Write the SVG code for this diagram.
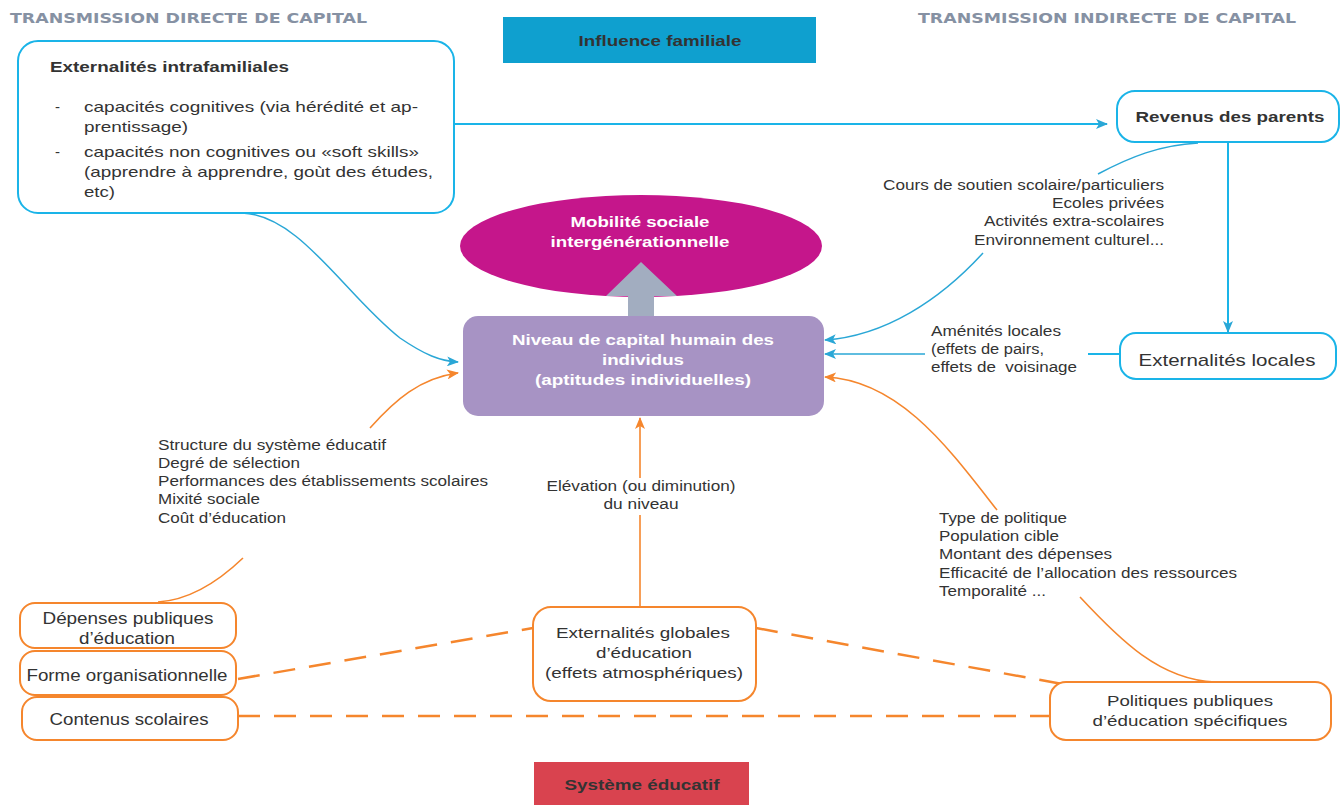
<svg xmlns="http://www.w3.org/2000/svg" width="1342" height="805" viewBox="0 0 1342 805">
<style>
text{font-family:"Liberation Sans",Arial,sans-serif;fill:#333}
.hdr{font-family:"DejaVu Sans","Liberation Sans",sans-serif;font-weight:bold;font-size:14px;fill:#8691a3}
.b{font-weight:bold}
.t14{font-size:14px}
.t15{font-size:15px}
.t16{font-size:16px}
.w{fill:#fff;font-weight:bold;font-size:15px}
.bbox{fill:#fff;stroke:#1ab4e8;stroke-width:2}
.obox{fill:#fff;stroke:#f5862d;stroke-width:2}
.bl{fill:none;stroke:#2aa7d6;stroke-width:1.5}
.bl2{fill:none;stroke:#1ab4e8;stroke-width:2}
.ol{fill:none;stroke:#f5862d;stroke-width:1.6}
.od{fill:none;stroke:#f5862d;stroke-width:2.5;stroke-dasharray:22 14}
</style>
<defs>
<marker id="ab" markerWidth="12" markerHeight="10" refX="11" refY="5" orient="auto" markerUnits="userSpaceOnUse"><path d="M0,0 L12,5 L0,10 L3,5 Z" fill="#2aa7d6"/></marker>
<marker id="ao" markerWidth="12" markerHeight="10" refX="11" refY="5" orient="auto" markerUnits="userSpaceOnUse"><path d="M0,0 L12,5 L0,10 L3,5 Z" fill="#f5862d"/></marker>
</defs>
<rect width="1342" height="805" fill="#fff"/>

<text class="hdr" x="10" y="23" textLength="357" lengthAdjust="spacingAndGlyphs">TRANSMISSION DIRECTE DE CAPITAL</text>
<text class="hdr" x="918" y="23" textLength="378" lengthAdjust="spacingAndGlyphs">TRANSMISSION INDIRECTE DE CAPITAL</text>

<g id="connectors">
<path class="bl2" d="M454,124 L1107,124" marker-end="url(#ab)"/>
<path class="bl" d="M242,213 C300,215 345,295 400,338 C425,355 440,361 458,362" marker-end="url(#ab)"/>
<path class="bl" d="M1098,174 C1130,157 1160,145 1198,143"/>
<path class="bl" d="M983,253 C940,300 885,336 825,340" marker-end="url(#ab)"/>
<path class="bl2" d="M1228,142 L1228,332" marker-end="url(#ab)"/>
<path class="bl2" d="M1120,354 L1088,354"/>
<path class="bl" d="M925,354 L825,354" marker-end="url(#ab)"/>
<path class="ol" d="M370,428 C395,400 420,378 458,373" marker-end="url(#ao)"/>
<path class="ol" d="M997,510 C950,450 900,380 825,377" marker-end="url(#ao)"/>
<path class="ol" d="M1080,597 C1120,640 1160,680 1215,682"/>
<path class="ol" d="M243,558 C220,580 190,600 158,602"/>
<path class="ol" stroke-width="2.5" d="M640,607 L640,515"/>
<path class="ol" stroke-width="2.5" d="M640,478 L640,418" marker-end="url(#ao)"/>
<path class="od" d="M238,679 L533,628"/>
<path class="od" d="M756,628 L1062,684"/>
<path class="od" d="M238,716 L1050,716"/>
</g>

<g id="influence">
<rect x="503" y="17" width="313" height="46" fill="#0fa0cf"/>
<text class="b t15" x="660" y="46" text-anchor="middle" textLength="163" lengthAdjust="spacingAndGlyphs">Influence familiale</text>
</g>

<g id="intrafamiliales">
<rect class="bbox" x="18" y="41" width="436" height="172" rx="20"/>
<text class="b t15" x="50" y="72" textLength="239" lengthAdjust="spacingAndGlyphs">Externalités intrafamiliales</text>
<text class="t15" x="55" y="112">-</text>
<text class="t15" x="84" y="112" textLength="334" lengthAdjust="spacingAndGlyphs">capacités cognitives (via hérédité et ap-</text>
<text class="t15" x="84" y="132" textLength="104" lengthAdjust="spacingAndGlyphs">prentissage)</text>
<text class="t15" x="55" y="157">-</text>
<text class="t15" x="84" y="157" textLength="335" lengthAdjust="spacingAndGlyphs">capacités non cognitives ou «soft skills»</text>
<text class="t15" x="84" y="177" textLength="349" lengthAdjust="spacingAndGlyphs">(apprendre à apprendre, goùt des études,</text>
<text class="t15" x="84" y="197" textLength="31" lengthAdjust="spacingAndGlyphs">etc)</text>
</g>

<g id="revenus">
<rect class="bbox" x="1117" y="91" width="222" height="51" rx="18"/>
<text class="b t15" x="1230" y="122" text-anchor="middle" textLength="189" lengthAdjust="spacingAndGlyphs">Revenus des parents</text>
</g>

<g id="label-revenus">
<text class="t14" x="1164" y="190" text-anchor="end" textLength="281" lengthAdjust="spacingAndGlyphs">Cours de soutien scolaire/particuliers</text>
<text class="t14" x="1164" y="208" text-anchor="end" textLength="112" lengthAdjust="spacingAndGlyphs">Ecoles privées</text>
<text class="t14" x="1164" y="226" text-anchor="end" textLength="180" lengthAdjust="spacingAndGlyphs">Activités extra-scolaires</text>
<text class="t14" x="1164" y="245" text-anchor="end" textLength="190" lengthAdjust="spacingAndGlyphs">Environnement culturel...</text>
</g>

<g id="mobilite">
<ellipse cx="641" cy="246" rx="181" ry="51" fill="#c5168b"/>
<text class="w" x="640" y="227" text-anchor="middle" textLength="139" lengthAdjust="spacingAndGlyphs">Mobilité sociale</text>
<text class="w" x="640" y="247" text-anchor="middle" textLength="179" lengthAdjust="spacingAndGlyphs">intergénérationnelle</text>
</g>

<g id="arrow-up">
<path d="M628,316 L628,296 L606,296 L641,262 L677,296 L654,296 L654,316 Z" fill="#a2adc0"/>
</g>

<g id="niveau">
<rect x="463" y="316" width="361" height="100" rx="15" fill="#a793c4"/>
<text class="w" x="643" y="345" text-anchor="middle" textLength="262" lengthAdjust="spacingAndGlyphs">Niveau de capital humain des</text>
<text class="w" x="643" y="365" text-anchor="middle" textLength="82" lengthAdjust="spacingAndGlyphs">individus</text>
<text class="w" x="643" y="385" text-anchor="middle" textLength="216" lengthAdjust="spacingAndGlyphs">(aptitudes individuelles)</text>
</g>

<g id="externalites-locales">
<rect class="bbox" x="1120" y="333" width="216" height="46" rx="16"/>
<text x="1227" y="366" text-anchor="middle" font-size="17" textLength="177" lengthAdjust="spacingAndGlyphs">Externalités locales</text>
</g>

<g id="label-amenites">
<text class="t14" x="931" y="336" textLength="130" lengthAdjust="spacingAndGlyphs">Aménités locales</text>
<text class="t14" x="931" y="354" textLength="113" lengthAdjust="spacingAndGlyphs">(effets de pairs,</text>
<text class="t14" x="931" y="372" textLength="146" lengthAdjust="spacingAndGlyphs" xml:space="preserve">effets de  voisinage</text>
</g>

<g id="label-systeme">
<text class="t14" x="158" y="450" textLength="228" lengthAdjust="spacingAndGlyphs">Structure du système éducatif</text>
<text class="t14" x="158" y="468" textLength="142" lengthAdjust="spacingAndGlyphs">Degré de sélection</text>
<text class="t14" x="158" y="486" textLength="330" lengthAdjust="spacingAndGlyphs">Performances des établissements scolaires</text>
<text class="t14" x="158" y="504" textLength="102" lengthAdjust="spacingAndGlyphs">Mixité sociale</text>
<text class="t14" x="158" y="523" textLength="128" lengthAdjust="spacingAndGlyphs">Coût d’éducation</text>
</g>

<g id="label-elevation">
<text class="t14" x="641" y="491" text-anchor="middle" textLength="189" lengthAdjust="spacingAndGlyphs">Elévation (ou diminution)</text>
<text class="t14" x="641" y="509" text-anchor="middle" textLength="75" lengthAdjust="spacingAndGlyphs">du niveau</text>
</g>

<g id="label-politiques">
<text class="t14" x="939" y="523" textLength="128" lengthAdjust="spacingAndGlyphs">Type de politique</text>
<text class="t14" x="939" y="541" textLength="120" lengthAdjust="spacingAndGlyphs">Population cible</text>
<text class="t14" x="939" y="559" textLength="173" lengthAdjust="spacingAndGlyphs">Montant des dépenses</text>
<text class="t14" x="939" y="578" textLength="298" lengthAdjust="spacingAndGlyphs">Efficacité de l’allocation des ressources</text>
<text class="t14" x="939" y="596" textLength="107" lengthAdjust="spacingAndGlyphs">Temporalité ...</text>
</g>

<g id="depenses">
<rect class="obox" x="20" y="603" width="216" height="45" rx="15"/>
<text class="t16" x="128" y="624" text-anchor="middle" textLength="171" lengthAdjust="spacingAndGlyphs">Dépenses publiques</text>
<text class="t16" x="127" y="644" text-anchor="middle" textLength="96" lengthAdjust="spacingAndGlyphs">d’éducation</text>
</g>

<g id="forme">
<rect class="obox" x="20" y="651" width="216" height="44" rx="15"/>
<text class="t16" x="127" y="681" text-anchor="middle" textLength="201" lengthAdjust="spacingAndGlyphs">Forme organisationnelle</text>
</g>

<g id="contenus">
<rect class="obox" x="22" y="697" width="216" height="43" rx="15"/>
<text class="t16" x="129" y="725" text-anchor="middle" textLength="159" lengthAdjust="spacingAndGlyphs">Contenus scolaires</text>
</g>

<g id="externalites-globales">
<rect class="obox" x="533" y="607" width="223" height="94" rx="18"/>
<text class="t15" x="643" y="638" text-anchor="middle" textLength="174" lengthAdjust="spacingAndGlyphs">Externalités globales</text>
<text class="t15" x="644" y="658" text-anchor="middle" textLength="96" lengthAdjust="spacingAndGlyphs">d’éducation</text>
<text class="t15" x="644" y="678" text-anchor="middle" textLength="198" lengthAdjust="spacingAndGlyphs">(effets atmosphériques)</text>
</g>

<g id="politiques">
<rect class="obox" x="1050" y="682" width="281" height="58" rx="16"/>
<text class="t15" x="1190" y="706" text-anchor="middle" textLength="166" lengthAdjust="spacingAndGlyphs">Politiques publiques</text>
<text class="t15" x="1190" y="726" text-anchor="middle" textLength="195" lengthAdjust="spacingAndGlyphs">d’éducation spécifiques</text>
</g>

<g id="systeme">
<rect x="534" y="762" width="215" height="43" fill="#d9434f"/>
<text class="b t15" x="642" y="790" text-anchor="middle" textLength="155" lengthAdjust="spacingAndGlyphs">Système éducatif</text>
</g>
</svg>
